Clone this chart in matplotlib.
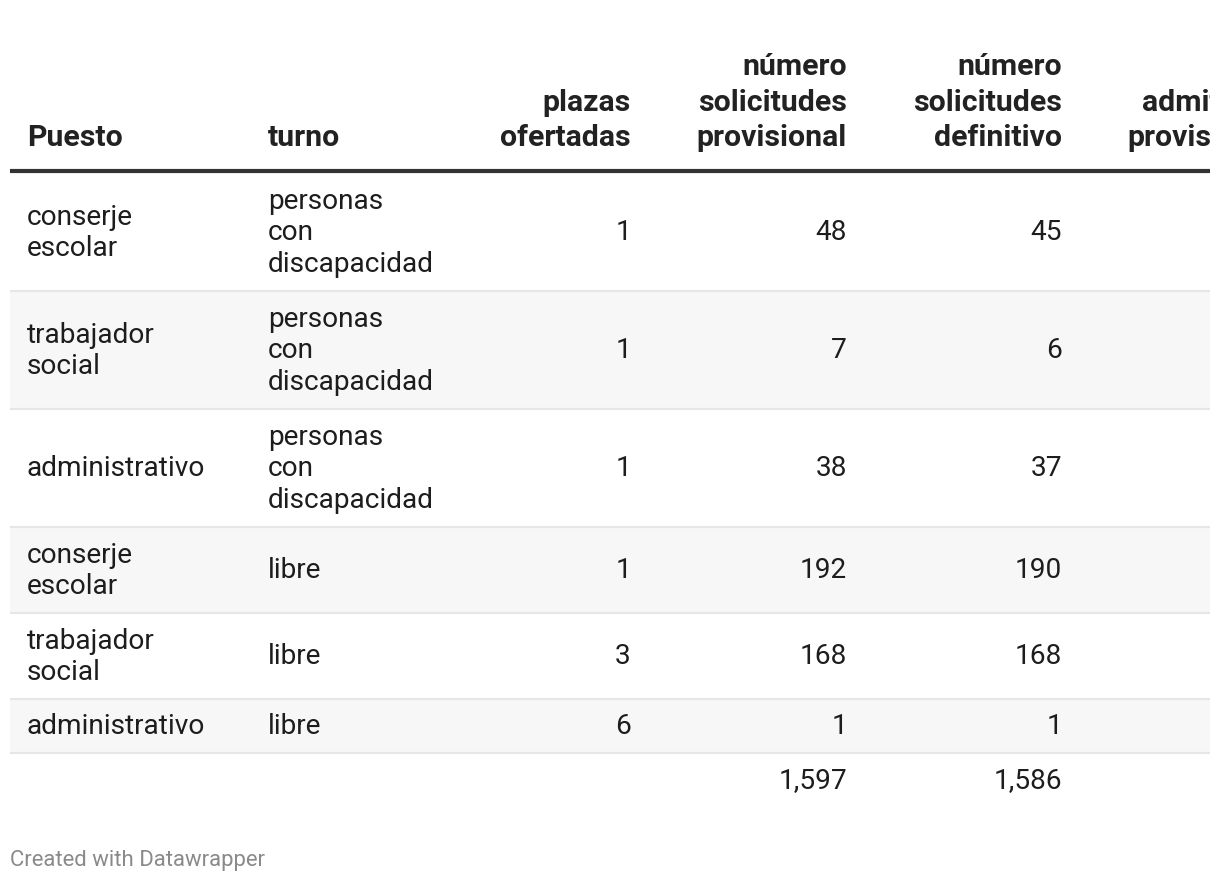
import matplotlib

matplotlib.use("Agg")
import matplotlib.pyplot as plt

# datos de la tabla
puesto = ["conserje\nescolar", "trabajador\nsocial", "administrativo",
          "conserje\nescolar", "trabajador\nsocial", "administrativo"]
turno = ["personas\ncon\ndiscapacidad", "personas\ncon\ndiscapacidad", "personas\ncon\ndiscapacidad",
         "libre", "libre", "libre"]
plazas = [1, 1, 1, 1, 3, 6]
solicitudes_prov = [48, 7, 38, 192, 168, 1]
solicitudes_def = [45, 6, 37, 190, 168, 1]
totales = ["", "", "", "1,597", "1,586"]
cabeceras = ["Puesto", "turno", "plazas\nofertadas", "número\nsolicitudes\nprovisional",
             "número\nsolicitudes\ndefinitivo", "admitidos\nprovisional"]

plt.rcParams["font.family"] = ["Roboto", "DejaVu Sans"]

W, H = 1220, 882
fig = plt.figure(figsize=(W / 100, H / 100), dpi=100)
ax = fig.add_axes([10 / W, 0, 1200 / W, 1])
ax.set_xlim(10, 1210)
ax.set_ylim(H, 0)
ax.axis("off")

# columnas: (x, alineación)
cols = [(27, "left"), (268, "left"), (631, "right"), (847, "right"), (1062, "right"), (1278, "right")]
fs = 20.2
body_color = "#1d1d1d"

# cabecera
for (x, ha), txt in zip(cols, cabeceras):
    ax.text(x, 146, txt, ha=ha, va="baseline", fontsize=21.8, fontweight="bold",
            color="#222222", linespacing=1.33, clip_on=True)
ax.axhline(171, color="#333333", linewidth=3)

# filas
y = 173
for i in range(len(puesto)):
    n_lines = max(puesto[i].count("\n"), turno[i].count("\n")) + 1
    h = 22 + 32 * n_lines
    if i % 2 == 1:
        ax.axhspan(y, y + h, color="#f7f7f7", linewidth=0, zorder=0)
    yc = y + h / 2 + 1
    valores = [puesto[i], turno[i], str(plazas[i]), str(solicitudes_prov[i]), str(solicitudes_def[i])]
    for (x, ha), txt in zip(cols, valores):
        ax.text(x, yc, txt, ha=ha, va="center", fontsize=fs, color=body_color,
                linespacing=1.23, clip_on=True)
    y += h
    ax.axhline(y, color="#e6e6e6", linewidth=1.6, zorder=1)

# totales
for (x, ha), txt in zip(cols, totales):
    if txt:
        ax.text(x, y + 28, txt, ha=ha, va="center", fontsize=fs, color=body_color, clip_on=True)

fig.text(10 / W, 1 - 866 / H, "Created with Datawrapper", ha="left", va="baseline",
         fontsize=15.9, color="#8a8a8a")

fig.savefig("out.png", dpi=100)
plt.close(fig)
